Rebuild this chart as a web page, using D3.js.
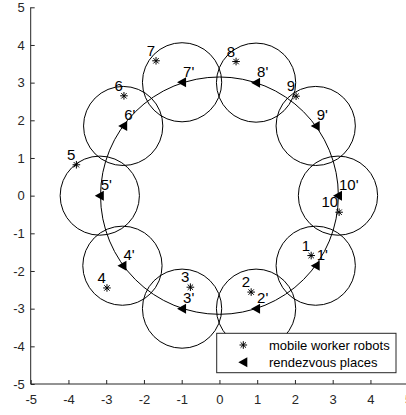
<!DOCTYPE html>
<html>
<head>
<meta charset="utf-8">
<script src="https://cdn.jsdelivr.net/npm/d3@7"></script>
<style>
  body { margin: 0; background: #fff; }
  svg { display: block; font-family: "Liberation Sans", Arial, sans-serif; }
</style>
</head>
<body>
<div id="chart"></div>
<script>
// robots (asterisks) and rendezvous places (triangles)
const robotLabels = ["1", "2", "3", "4", "5", "6", "7", "8", "9", "10"];
const robotX = [2.43, 0.84, -0.77, -2.98, -3.79, -2.53, -1.68, 0.44, 2.03, 3.17];
const robotY = [-1.59, -2.56, -2.43, -2.45, 0.82, 2.65, 3.58, 3.56, 2.64, -0.44];

const placeLabels = ["1'", "2'", "3'", "4'", "5'", "6'", "7'", "8'", "9'", "10'"];
const placeX = [2.55, 0.97, -0.99, -2.57, -3.17, -2.55, -0.99, 0.97, 2.55, 3.14];
const placeY = [-1.86, -3.0, -3.0, -1.86, 0.0, 1.85, 3.01, 3.0, 1.85, 0.0];

const routeRadius = 3.15;
const zoneRadius = 1.05;

const xTicks = [-5, -4, -3, -2, -1, 0, 1, 2, 3, 4, 5];
const yTicks = [-5, -4, -3, -2, -1, 0, 1, 2, 3, 4, 5];

const legendItems = ["mobile worker robots", "rendezvous places"];

(function () {
  const W = 406, H = 415;
  const axisColor = "#262626";

  const svg = d3.select("#chart").append("svg")
    .attr("width", W)
    .attr("height", H);

  const x = d3.scaleLinear().domain([-5, 5]).range([30.7, 408.2]);
  const y = d3.scaleLinear().domain([-5, 5]).range([384, 7.3]);

  // axes (left + bottom only, ticks inward)
  const xAxis = svg.append("g")
    .attr("transform", `translate(0,${y(-5)})`)
    .call(d3.axisTop(x).tickValues(xTicks).tickSize(4).tickFormat(d3.format("d")));
  xAxis.select(".domain").attr("stroke", axisColor).attr("d", `M${x(-5)},0H${x(5)}`);
  xAxis.selectAll(".tick line").attr("stroke", axisColor);
  xAxis.selectAll(".tick text")
    .attr("y", 11)
    .attr("dy", "0.71em")
    .attr("fill", axisColor)
    .attr("font-size", "13px")
    .text((d) => (d < 0 ? "-" + Math.abs(d) : d));

  const yAxis = svg.append("g")
    .attr("transform", `translate(${x(-5)},0)`)
    .call(d3.axisRight(y).tickValues(yTicks).tickSize(4));
  yAxis.select(".domain").attr("stroke", axisColor).attr("d", `M0,${y(-5)}V${y(5)}`);
  yAxis.selectAll(".tick line").attr("stroke", axisColor);
  yAxis.selectAll(".tick text")
    .attr("x", -6)
    .attr("text-anchor", "end")
    .attr("fill", axisColor)
    .attr("font-size", "13px")
    .text((d) => (d < 0 ? "-" + Math.abs(d) : d));

  const g = svg.append("g");

  // big route circle
  g.append("ellipse")
    .attr("cx", x(0))
    .attr("cy", y(0))
    .attr("rx", x(routeRadius) - x(0))
    .attr("ry", y(0) - y(routeRadius))
    .attr("fill", "none")
    .attr("stroke", "#000")
    .attr("stroke-width", 1);

  const places = placeX.map((px, i) => ({ x: px, y: placeY[i], label: placeLabels[i] }));
  const robots = robotX.map((rx, i) => ({ x: rx, y: robotY[i], label: robotLabels[i] }));

  // zone circles around each rendezvous place
  g.selectAll(".zone")
    .data(places)
    .join("ellipse")
    .attr("class", "zone")
    .attr("cx", (d) => x(d.x))
    .attr("cy", (d) => y(d.y))
    .attr("rx", x(zoneRadius) - x(0))
    .attr("ry", y(0) - y(zoneRadius))
    .attr("fill", "none")
    .attr("stroke", "#000")
    .attr("stroke-width", 1);

  const triPath = "M-5,0L4,-5L4,5Z";
  const starPath = "M-3.8,0H3.8M0,-3.8V3.8M-2.7,-2.7L2.7,2.7M-2.7,2.7L2.7,-2.7";

  g.selectAll(".place")
    .data(places)
    .join("path")
    .attr("class", "place")
    .attr("transform", (d) => `translate(${x(d.x)},${y(d.y)})`)
    .attr("d", triPath)
    .attr("fill", "#000");

  g.selectAll(".robot")
    .data(robots)
    .join("path")
    .attr("class", "robot")
    .attr("transform", (d) => `translate(${x(d.x)},${y(d.y)})`)
    .attr("d", starPath)
    .attr("stroke", "#000")
    .attr("stroke-width", 1)
    .attr("fill", "none");

  g.selectAll(".robot-label")
    .data(robots)
    .join("text")
    .attr("class", "robot-label")
    .attr("x", (d) => x(d.x) - 1)
    .attr("y", (d) => y(d.y) - 10)
    .attr("dy", "0.35em")
    .attr("text-anchor", "end")
    .attr("font-size", "15px")
    .attr("fill", "#000")
    .text((d) => d.label);

  g.selectAll(".place-label")
    .data(places)
    .join("text")
    .attr("class", "place-label")
    .attr("x", (d) => x(d.x) + 1)
    .attr("y", (d) => y(d.y) - 11)
    .attr("dy", "0.35em")
    .attr("text-anchor", "start")
    .attr("font-size", "15px")
    .attr("fill", "#000")
    .text((d) => d.label);

  // legend
  const legend = svg.append("g").attr("transform", "translate(216.7,333.3)");
  legend.append("rect")
    .attr("width", 179.3)
    .attr("height", 39.4)
    .attr("fill", "#fff")
    .attr("stroke", axisColor)
    .attr("stroke-width", 1);

  legendItems.forEach((label, i) => {
    const row = legend.append("g").attr("transform", `translate(0,${11.7 + i * 17.3})`);
    if (i === 0) {
      row.append("path")
        .attr("transform", "translate(26.6,0)")
        .attr("d", starPath)
        .attr("stroke", "#000")
        .attr("fill", "none");
    } else {
      row.append("path")
        .attr("transform", "translate(26.6,0)")
        .attr("d", triPath)
        .attr("fill", "#000");
    }
    row.append("text")
      .attr("x", 52.3)
      .attr("dy", "0.35em")
      .attr("font-size", "13px")
      .attr("fill", "#000")
      .text(label);
  });
})();
</script>
</body>
</html>
